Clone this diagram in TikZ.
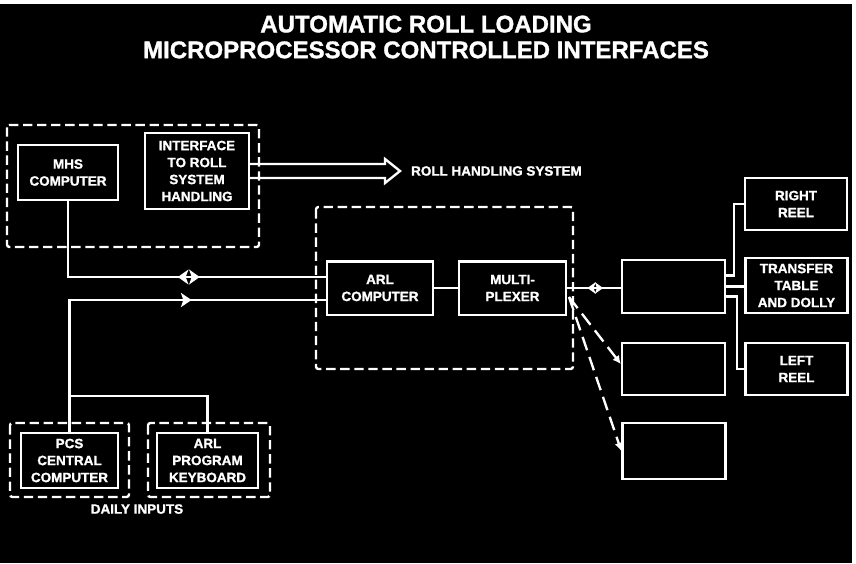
\documentclass[tikz,border=0pt]{standalone}
\usepackage{fontspec}
\setmainfont{Liberation Sans}[BoldFeatures={FakeBold=1.3}]
\usetikzlibrary{arrows.meta,positioning,calc,decorations.markings}

\begin{document}
\begin{tikzpicture}[
  x=0.3mm,y=-0.3mm,
  box/.style={draw=white,line width=2pt,text=white,align=center,inner sep=1pt,
    font=\fontsize{11.5}{14.5}\selectfont\bfseries,minimum width=31mm,minimum height=16mm},
  grp/.style={draw=white,line width=2pt,dash pattern=on 8pt off 4pt,rounded corners=2pt},
  wire/.style={white,line width=2pt},
  dwire/.style={wire,dash pattern=on 12pt off 6pt,-{Latex[length=7pt,width=7pt]}},
  lbl/.style={text=white,font=\fontsize{11.5}{13}\selectfont\bfseries},
  bidir/.style n args={3}{postaction={decorate},decoration={markings,
    mark=at position #1 with {\arrow{Stealth[reversed,length=#3,width=1.4*#3,inset=0.25*#3]}},
    mark=at position #2 with {\arrow{Stealth[length=#3,width=1.4*#3,inset=0.25*#3]}}}},
  onedir/.style={postaction={decorate},decoration={markings,
    mark=at position #1 with {\arrow{Stealth[length=9pt,width=12pt,inset=2pt]}}}}
]
  % background
  \fill[white] (0,0) rectangle (856,563);
  \fill[black] (0,4) rectangle (852,563);
  \useasboundingbox (0,0) rectangle (856,563);
  \node[text=white,font=\fontsize{20.5}{22}\selectfont\bfseries,align=center] (title) at (426,37)
    {AUTOMATIC ROLL LOADING\\MICROPROCESSOR CONTROLLED INTERFACES};
  % groups
  \draw[grp] (7,125) rectangle (259,247);
  \draw[grp] (316,207) rectangle (573,369);
  \draw[grp] (10,423) rectangle (129,497);
  \draw[grp] (148,423) rectangle (270,497);
  % boxes
  \node[box,minimum width=30mm,minimum height=16.5mm] (mhs) at (68,172.5) {MHS\\COMPUTER};
  \node[box,minimum width=31.2mm,minimum height=22.8mm] (iface) at (197,171) {INTERFACE\\TO ROLL\\SYSTEM\\HANDLING};
  \node[box,minimum width=31.8mm] (arl) at (380,288) {ARL\\COMPUTER};
  \node[box,minimum width=32.1mm] (mux) at (512.5,288) {MULTI-\\PLEXER};
  \node[box,minimum width=30.9mm,minimum height=15.9mm] (cb1) at (673.5,286.5) {};
  \node[box,minimum width=30.9mm,minimum height=15.6mm] (cb2) at (673.5,369) {};
  \node[box,minimum width=30.9mm,minimum height=16.8mm] (cb3) at (674,451) {};
  \node[box,minimum width=30.6mm,minimum height=15.6mm] (rreel) at (796,204) {RIGHT\\REEL};
  \node[box,minimum width=30.6mm,minimum height=16.5mm] (xfer) at (796.5,285.5) {TRANSFER\\TABLE\\AND DOLLY};
  \node[box,minimum width=30.6mm,minimum height=15.6mm] (lreel) at (796.5,369) {LEFT\\REEL};
  \node[box,minimum width=29.1mm,minimum height=16.5mm] (pcs) at (69.5,460.5) {PCS\\CENTRAL\\COMPUTER};
  \node[box,minimum width=30.3mm,minimum height=16.5mm] (kbd) at (207.5,460.5) {ARL\\PROGRAM\\KEYBOARD};
  \node[lbl,anchor=west] (rhslbl) at (407,171) {ROLL HANDLING SYSTEM};
  \node[lbl] (daily) at (137,509) {DAILY INPUTS};
  \coordinate (rhs) at (400,171);
  \coordinate (mxo) at (569,297);
  % Arrows
  \draw[wire,line join=miter] ($(iface.east)+(0,-7)$) -- ($(rhs)+(-15,-7)$) -- ($(rhs)+(-15,-12)$)
    -- (rhs) -- ($(rhs)+(-15,12)$) -- ($(rhs)+(-15,7)$) -- ($(iface.east)+(0,7)$);
  \draw[wire,bidir={0.588}{0.622}{9pt}] (mhs.south) |- ($(arl.west)+(0,-11)$);
  \draw[wire,onedir=0.654] (pcs.north) |- ($(arl.west)+(0,12)$);
  \draw[wire] (kbd.north) |- ($(pcs.north)+(0,-36)$);
  \draw[wire] (arl) -- (mux);
  \draw[wire,bidir={0.53}{0.67}{7pt}] (mux.east) -- (mux.east -| cb1.west);
  \draw[dwire] (mxo) -- ($(cb2.west)+(0,-5)$);
  \draw[dwire] (mxo) -- (cb3.west);
  % Reel links
  \draw[wire] ($(cb1.east)+(0,-11)$) -- ++(8,0) |- (rreel.west);
  \draw[wire] (cb1.east) -- (cb1.east -| xfer.west);
  \draw[wire] ($(cb1.east)+(0,10)$) -- ++(11,0) |- (lreel.west);
\end{tikzpicture}
\end{document}
